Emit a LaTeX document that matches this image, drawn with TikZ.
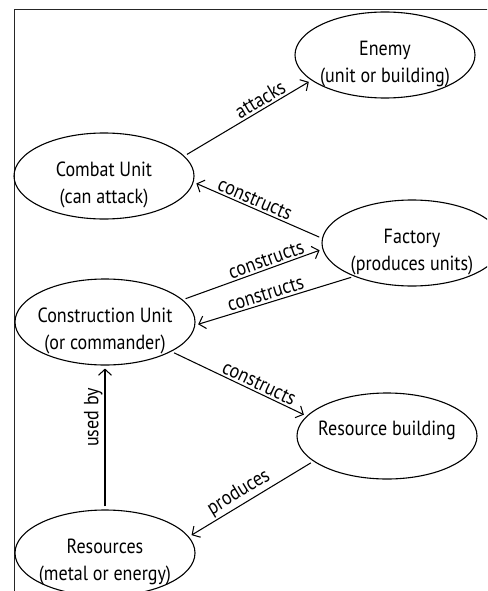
\documentclass[tikz,border=0pt]{standalone}
\usepackage{fontspec}
\setmainfont{PT Sans}[FakeStretch=0.88]
\usetikzlibrary{shapes.geometric,arrows.meta}
\begin{document}
\begin{tikzpicture}[x=1pt,y=-1pt,
  ent/.style={ellipse,draw,line width=1.1pt,minimum width=180pt,minimum height=86pt,inner sep=0pt},
  txt/.style={align=center,inner sep=0pt,font=\fontsize{20.5}{27}\selectfont},
  rel/.style={line width=1.05pt,-{Straight Barb[length=6pt,width=13pt,line width=1.05pt]},shorten <=3pt,shorten >=3pt},
  lbl/.style={sloped,above,font=\fontsize{20.5}{22}\selectfont,inner sep=2pt}
]
\useasboundingbox (0,0) rectangle (487,591);
\clip (0,0) rectangle (487,591);
\draw[line width=0.9pt,black!85] (14,9) rectangle (530,630);
\node[ent] (enemy) at (385,55) {};
\node[ent] (combat) at (104,176) {};
\node[ent] (factory) at (412,243) {};
\node[ent] (constr) at (105,322) {};
\node[ent] (resb) at (387,436) {};
\node[ent] (res) at (105,553) {};
\node[txt] (enemyt) at ([yshift=-9pt]enemy.center) {Enemy\\(unit or building)};
\node[txt] (combatt) at ([yshift=-9pt]combat.center) {Combat Unit\\(can attack)};
\node[txt] (factoryt) at ([yshift=-9pt]factory.center) {Factory\\(produces units)};
\node[txt] (constrt) at ([yshift=-9pt]constr.center) {Construction Unit\\(or commander)};
\node[txt] (resbt) at ([yshift=6pt]resb.center) {Resource building};
\node[txt] (rest) at ([yshift=-9pt]res.center) {Resources\\(metal or energy)};
\draw[rel] (combat.14) -- (enemy.199) node[lbl,pos=0.635]{attacks};
\draw[rel] (factory.177) -- (combat.-4) node[lbl,pos=0.55]{constructs};
\draw[rel] (constr.16) -- (factory.184) node[lbl,pos=0.62]{constructs};
\draw[rel] (factory.210) -- (constr.-2) node[lbl,pos=0.54]{constructs};
\draw[rel] (constr.-24) -- (resb.166) node[lbl,pos=0.62]{constructs};
\draw[rel] (resb.199) -- (res.11) node[lbl,pos=0.55]{produces};
\draw[rel] (res.90) -- (constr.-90) node[lbl,pos=0.64]{used by};
\end{tikzpicture}
\end{document}
